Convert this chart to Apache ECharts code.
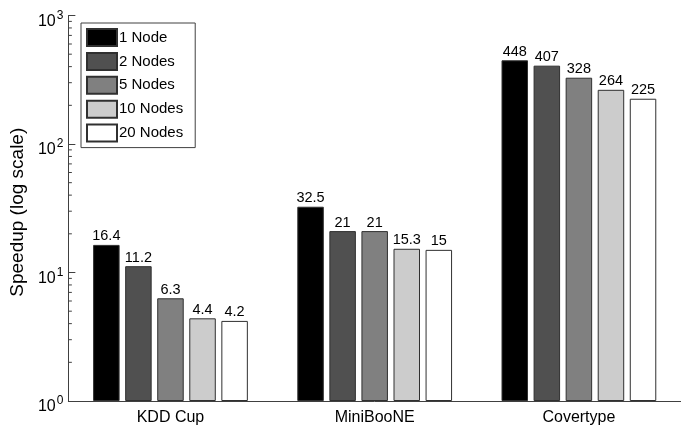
<!DOCTYPE html>
<html>
<head>
<meta charset="utf-8">
<script src="https://cdn.jsdelivr.net/npm/echarts@6/dist/echarts.min.js"></script>
<style>
  html, body { margin: 0; padding: 0; background: #fff; }
  #chart { width: 681px; height: 427px; }
</style>
</head>
<body>
<div id="chart"></div>
<script>
// Datasets on the x axis
const datasets = ['KDD Cup', 'MiniBooNE', 'Covertype'];

// Speedup per cluster size, one value per dataset
const nodes1 = [16.4, 32.5, 448];
const nodes2 = [11.2, 21, 407];
const nodes5 = [6.3, 21, 328];
const nodes10 = [4.4, 15.3, 264];
const nodes20 = [4.2, 15, 225];

const seriesNames = ['1 Node', '2 Nodes', '5 Nodes', '10 Nodes', '20 Nodes'];
const seriesColors = ['#000000', '#505050', '#808080', '#cccccc', '#ffffff'];

// Minor tick positions of the log axis (2..9 within each decade)
const minorTickValues = [2, 3, 4, 5, 6, 7, 8, 9, 20, 30, 40, 50, 60, 70, 80, 90, 200, 300, 400, 500, 600, 700, 800, 900];

const FONT = '"Liberation Sans", Arial, Helvetica, sans-serif';
const chart = echarts.init(document.getElementById('chart'), null, { renderer: 'canvas' });

const barData = [nodes1, nodes2, nodes5, nodes10, nodes20];
const barSeries = barData.map((vals, i) => ({
  name: seriesNames[i],
  type: 'bar',
  data: vals,
  barWidth: 26.5,
  barGap: '21%',
  itemStyle: { color: seriesColors[i], borderColor: '#303030', borderWidth: 1 },
  label: {
    show: true,
    position: 'top',
    distance: 1,
    color: '#000',
    fontFamily: FONT,
    fontSize: 14.5
  },
  emphasis: { disabled: true }
}));

// Short inward ticks at 2..9 of each decade
const minorTickSeries = {
  type: 'custom',
  silent: true,
  z: 5,
  data: minorTickValues.map(v => [0, v]),
  renderItem: function (params, api) {
    const y = api.coord([0, api.value(1)])[1];
    const x0 = params.coordSys.x;
    return {
      type: 'line',
      shape: { x1: x0, y1: y, x2: x0 + 3.5, y2: y },
      style: { stroke: '#404040', lineWidth: 1 }
    };
  }
};

chart.setOption({
  animation: false,
  backgroundColor: '#fff',
  grid: { left: 64, right: -7, top: 15.5, bottom: 26, containLabel: false },
  legend: {
    data: seriesNames,
    orient: 'vertical',
    left: 81,
    top: 23,
    itemWidth: 30,
    itemHeight: 17,
    itemGap: 4.9,
    icon: 'rect',
    padding: [5, 12, 5, 5],
    borderColor: '#404040',
    borderWidth: 1,
    backgroundColor: '#fff',
    textStyle: { color: '#000', fontFamily: FONT, fontSize: 15, lineHeight: 17, padding: [0, 0, 0, -3] },
    selectedMode: false
  },
  xAxis: {
    type: 'category',
    data: datasets,
    axisLine: { lineStyle: { color: '#404040', width: 1 } },
    axisTick: { show: false },
    axisLabel: { color: '#000', fontFamily: FONT, fontSize: 16, margin: 9 },
    splitLine: { show: false }
  },
  yAxis: {
    type: 'log',
    logBase: 10,
    min: 1,
    max: 1000,
    name: 'Speedup (log scale)',
    nameLocation: 'middle',
    nameGap: 32,
    nameTextStyle: { color: '#000', fontFamily: FONT, fontSize: 19, padding: [0, 8, 0, 0] },
    axisLine: { show: true, lineStyle: { color: '#404040', width: 1 } },
    axisTick: { show: true, inside: true, length: 7, lineStyle: { color: '#404040' } },
    splitLine: { show: false },
    axisLabel: {
      margin: 5,
      formatter: function (v) {
        const e = Math.round(Math.log10(v));
        return '{b|10}{s|' + e + '}';
      },
      rich: {
        b: { fontFamily: FONT, fontSize: 16, color: '#000', padding: [12, 0, 0, 0] },
        s: { fontFamily: FONT, fontSize: 12, color: '#000', padding: [0, 0, 0, 1] }
      }
    }
  },
  series: barSeries.concat([minorTickSeries])
});
</script>
</body>
</html>
